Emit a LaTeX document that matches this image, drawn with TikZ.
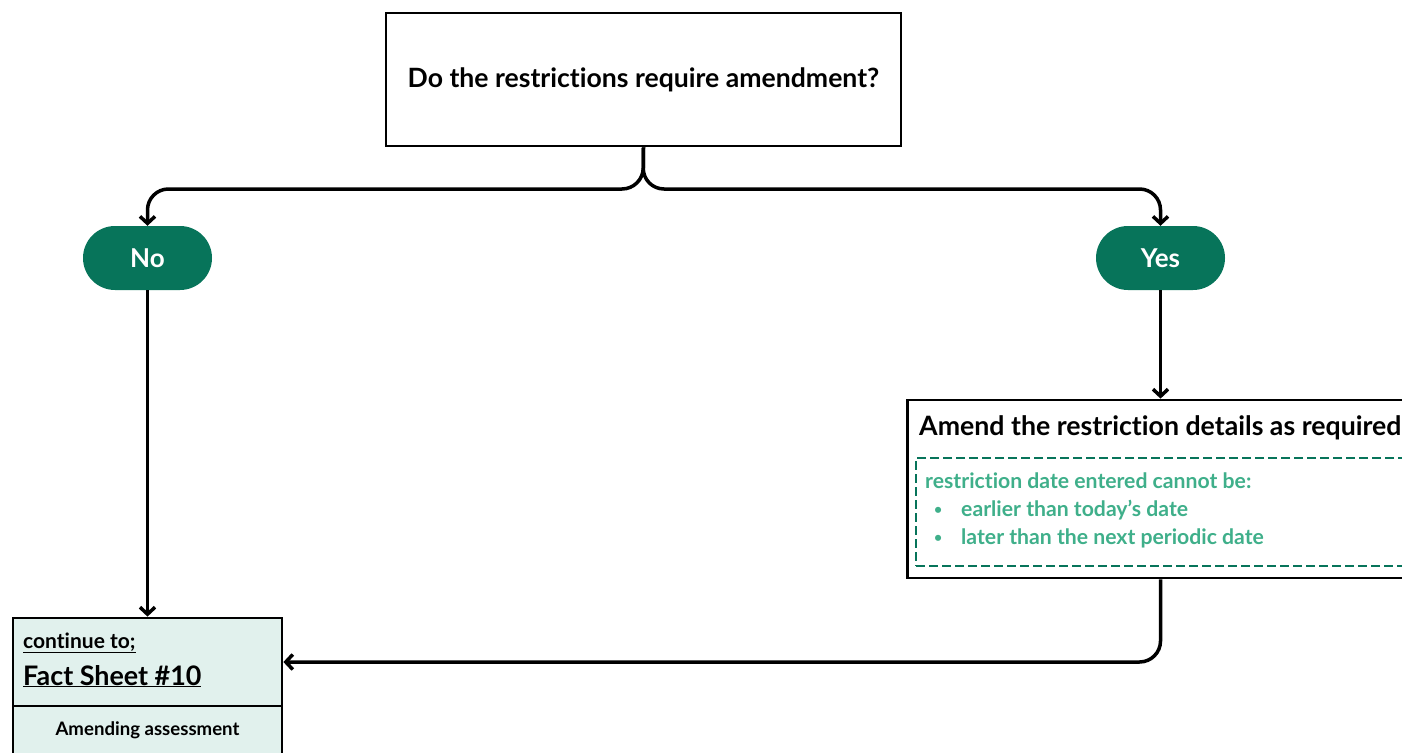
\documentclass[tikz,border=0pt]{standalone}
\usepackage{fontspec}
\setmainfont{Lato}[Ligatures={NoCommon}]
\usetikzlibrary{arrows.meta}
\definecolor{dkgreen}{RGB}{7,116,90}
\definecolor{ltgreen}{RGB}{63,175,138}
\definecolor{pale}{RGB}{225,241,237}
\begin{document}
\begin{tikzpicture}[x=1pt,y=-1pt,
 box/.style={draw=black,line width=2.8pt,inner sep=0pt},
 pill/.style={fill=dkgreen,rounded corners=32pt,minimum width=129pt,minimum height=64pt,text=white,font=\fontsize{26}{30}\selectfont\bfseries,inner sep=0pt},
 conn/.style={line width=3.5pt,rounded corners=21pt,-{Straight Barb[length=7pt,width=15pt]}},
 lbl/.style={inner sep=0pt,anchor=base west},
 gtext/.style={lbl,text=ltgreen,font=\fontsize{21.2}{24}\selectfont\bfseries}
]
\useasboundingbox (0,0) rectangle (1402,752);

\node[box,minimum width=515pt,minimum height=133pt,font=\fontsize{26.6}{30}\selectfont\bfseries] (q) at (643.5,79.5) {\raisebox{-2pt}{Do the restrictions require amendment?}};

\node[pill] (no) at (147.5,258) {No};
\node[pill] (yes) at (1160.5,258) {Yes};

\node[box,minimum width=506pt,minimum height=178pt] (amend) at (1160.5,489) {};
\node[lbl,font=\fontsize{26.7}{30}\selectfont\bfseries] (amendt) at (919,435.5) {Amend the restriction details as required};
\node[draw=dkgreen,line width=2pt,dash pattern=on 9pt off 4pt,minimum width=510pt,minimum height=108pt,inner sep=0pt,anchor=north west] (dash) at (915,457) {};
\node[gtext] (g1) at (925,488.5) {restriction date entered cannot be:};
\node[gtext,font=\fontsize{14}{16}\selectfont\bfseries] (b1) at (934,514) {\textbullet};
\node[gtext] (g2) at (961,516.5) {earlier than today’s date};
\node[gtext,font=\fontsize{14}{16}\selectfont\bfseries] (b2) at (934,542) {\textbullet};
\node[gtext] (g3) at (961,544.5) {later than the next periodic date};

\node[box,fill=pale,minimum width=269pt,minimum height=88pt] (fact) at (147.5,662) {};
\node[box,fill=pale,minimum width=269pt,minimum height=94pt] (factb) at (147.5,753) {};
\node[lbl,font=\fontsize{21}{24}\selectfont\bfseries] (cont) at (23,648) {\underline{continue to;}};
\node[lbl,font=\fontsize{26.9}{30}\selectfont\bfseries] (fs) at (23,685) {\underline{Fact Sheet \#10}};
\node[inner sep=0pt,font=\fontsize{18.6}{22}\selectfont\bfseries] (am) at (147.5,730) {Amending assessment};

\draw[conn] (q.south) -- (643,189) -| (no.north);
\draw[conn] (q.south) -- (643,189) -| (yes.north);
\draw[conn] (no.south) -- (fact.north);
\draw[conn] (yes.south) -- (amend.north);
\draw[conn] (amend.south) |- (fact.east);
\end{tikzpicture}
\end{document}
